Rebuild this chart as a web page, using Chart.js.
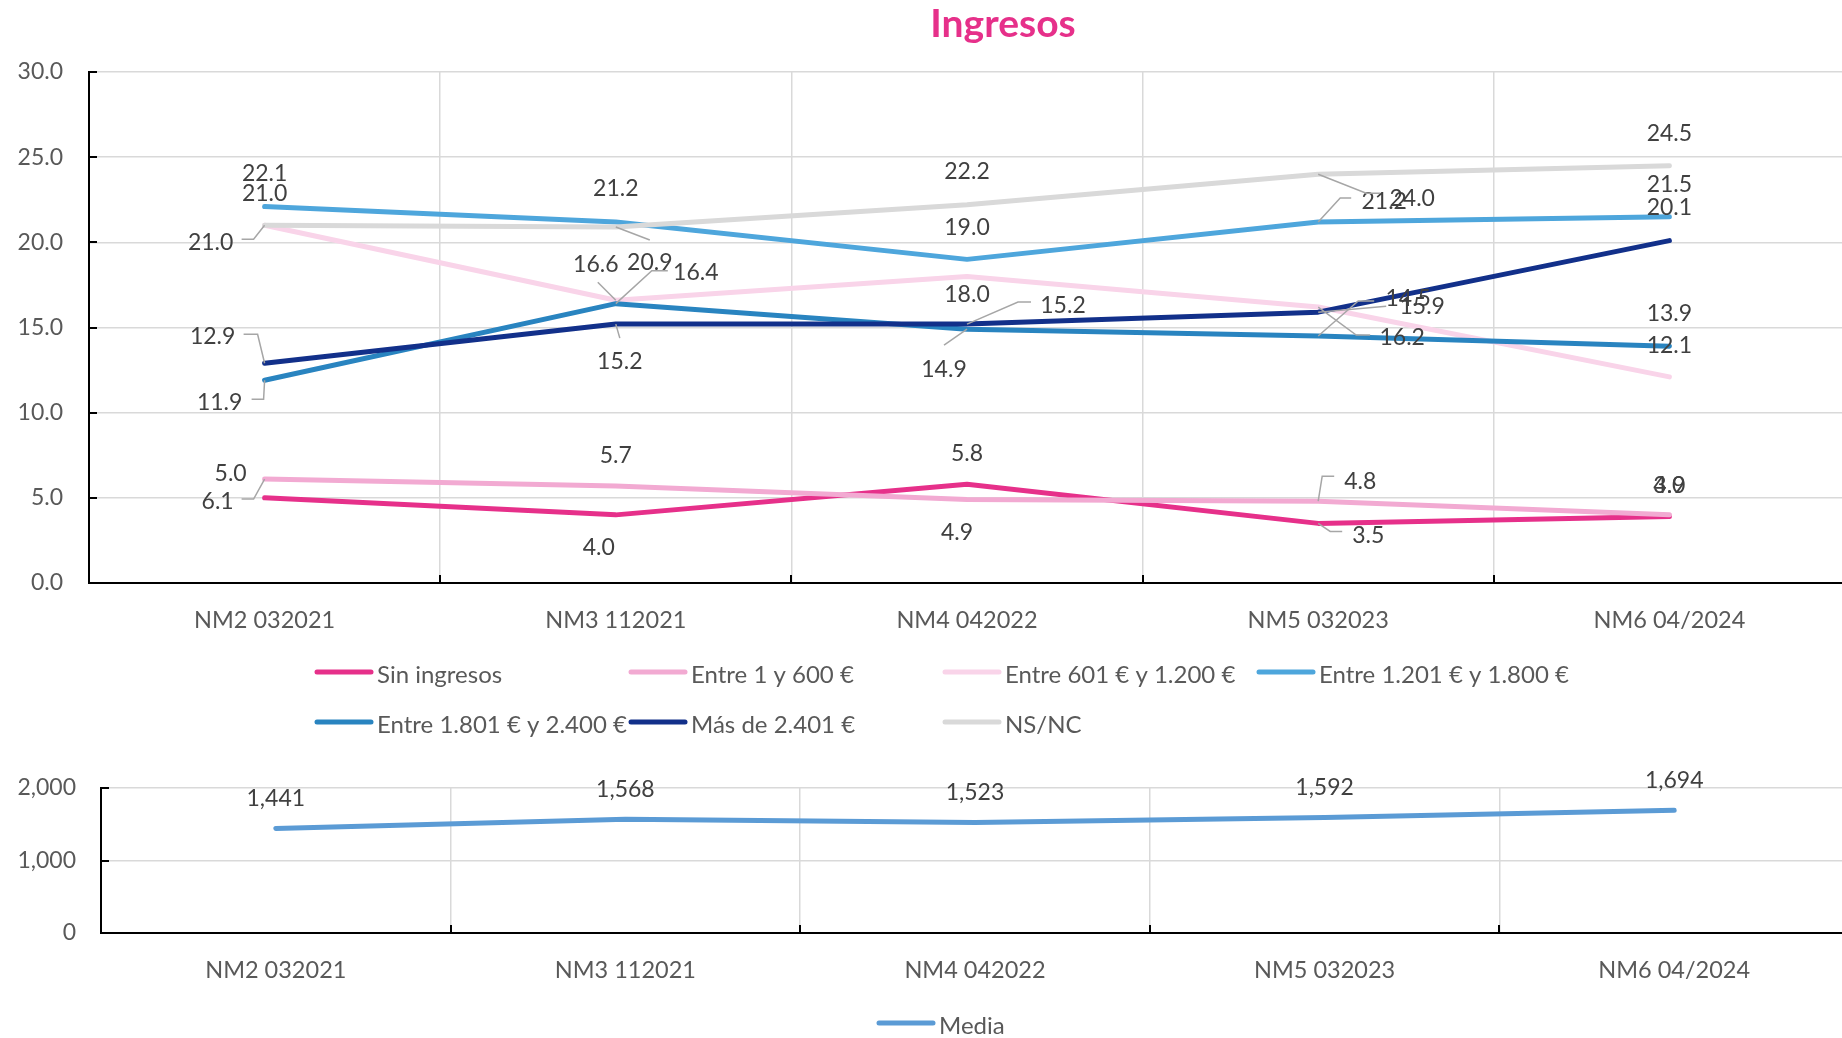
<!DOCTYPE html>
<html>
<head>
<meta charset="utf-8">
<title>Ingresos</title>
<script src="https://cdn.jsdelivr.net/npm/chart.js@4.4.1/dist/chart.umd.min.js"></script>
<style>
  html, body { margin: 0; padding: 0; background: #fff; overflow: hidden; width: 1842px; height: 1038px; }
  #ingresos { position: absolute; left: 0; top: 0; }
  #media { position: absolute; left: 0; top: 760px; }
</style>
</head>
<body>
<canvas id="ingresos" width="1860" height="760"></canvas>
<canvas id="media" width="1860" height="278"></canvas>
<script>
// Survey waves (x categories)
const waves = ['NM2 032021', 'NM3 112021', 'NM4 042022', 'NM5 032023', 'NM6 04/2024'];

// Share of respondents by income bracket (%)
const sinIngresos      = [5.0, 4.0, 5.8, 3.5, 3.9];
const entre1y600       = [6.1, 5.7, 4.9, 4.8, 4.0];
const entre601y1200    = [21.0, 16.6, 18.0, 16.2, 12.1];
const entre1201y1800   = [22.1, 21.2, 19.0, 21.2, 21.5];
const entre1801y2400   = [11.9, 16.4, 14.9, 14.5, 13.9];
const masDe2401        = [12.9, 15.2, 15.2, 15.9, 20.1];
const nsnc             = [21.0, 20.9, 22.2, 24.0, 24.5];

// Average income (€)
const media = [1441, 1568, 1523, 1592, 1694];

// Axis ticks
const pctTicks = [0, 5, 10, 15, 20, 25, 30];
const mediaTicks = [0, 1000, 2000];

const seriesNames = ['Sin ingresos', 'Entre 1 y 600 €', 'Entre 601 € y 1.200 €', 'Entre 1.201 € y 1.800 €',
                     'Entre 1.801 € y 2.400 €', 'Más de 2.401 €', 'NS/NC'];
const seriesValues = [sinIngresos, entre1y600, entre601y1200, entre1201y1800, entre1801y2400, masDe2401, nsnc];
const seriesColors = ['#E6308A', '#F2AAD2', '#F9D4E9', '#4EA6DC', '#2984C0', '#12308A', '#D9D9D9'];

const FONT = 'Lato';
const TEXT = '#595959';
const LABEL = '#404040';
const GRID = '#D9D9D9';

// Where each value label sits relative to its point, plus elbow leaders
const labelPlacement = [
  { offsets: [[-34,-24],[-17,33],[0,-31],[50,12],[0,-31]], leaders: {3: [[12,8],[24,8]]} },
  { offsets: [[-47,22],[0,-30],[-10,33],[42,-20],[0,-29]], leaders: {0: [[-11,20],[-23,20]], 3: [[4,-25],[16,-25]]} },
  { offsets: [[-54,17],[-20,-36],[0,18],[84,31],[0,-31]], leaders: {0: [[-11,14],[-23,14]], 1: [[-18,-18]], 3: [[38,28],[52,28]]} },
  { offsets: [[0,-33],[0,-33],[0,-32],[66,-20],[0,-32]], leaders: {3: [[22,-24],[33,-24]]} },
  { offsets: [[-45,22],[80,-31],[-23,40],[90,-37],[0,-33]], leaders: {0: [[-1,19],[-13,19]], 1: [[36,-33],[52,-33]], 2: [[-23,16]], 3: [[40,-35],[56,-35]]} },
  { offsets: [[-52,-27],[4,37],[96,-19],[104,-6],[0,-33]], leaders: {0: [[-7,-29],[-21,-29]], 1: [[4,14]], 2: [[51,-22],[64,-22]], 3: [[68,-6]]} },
  { offsets: [[0,-32],[34,36],[0,-33],[94,24],[0,-32]], leaders: {1: [[34,13]], 3: [[48,19],[62,19]]} }
];

// Value labels with optional leader lines
const valueLabels = {
  id: 'valueLabels',
  afterDatasetsDraw(chart, args, opts) {
    const ctx = chart.ctx;
    ctx.save();
    ctx.font = `23px ${FONT}`;
    ctx.fillStyle = LABEL;
    ctx.textAlign = 'center';
    ctx.textBaseline = 'middle';
    chart.data.datasets.forEach((ds, di) => {
      const meta = chart.getDatasetMeta(di);
      const place = opts.placement ? opts.placement[di] : null;
      meta.data.forEach((pt, i) => {
        const off = place ? place.offsets[i] : opts.offset;
        const leader = place && place.leaders[i];
        if (leader) {
          ctx.beginPath();
          ctx.strokeStyle = '#A6A6A6';
          ctx.lineWidth = 1.5;
          ctx.moveTo(pt.x, pt.y);
          leader.forEach(p => ctx.lineTo(pt.x + p[0], pt.y + p[1]));
          ctx.stroke();
        }
        ctx.fillText(opts.format(ds.data[i]), pt.x + off[0], pt.y + off[1]);
      });
    });
    ctx.restore();
  }
};

// Short inward tick marks on both axes
const innerTicks = {
  id: 'innerTicks',
  afterDraw(chart, args, opts) {
    const ctx = chart.ctx;
    const xs = chart.scales.x, ys = chart.scales.y;
    const a = chart.chartArea;
    ctx.save();
    ctx.strokeStyle = '#000';
    ctx.lineWidth = 2;
    ys.ticks.forEach((t, i) => {
      const y = Math.round(ys.getPixelForTick(i));
      ctx.beginPath(); ctx.moveTo(a.left, y); ctx.lineTo(a.left + opts.len, y); ctx.stroke();
    });
    const n = chart.data.labels.length;
    const half = (xs.getPixelForValue(1) - xs.getPixelForValue(0)) / 2;
    for (let i = 1; i < n; i++) {
      const x = Math.round(xs.getPixelForValue(i) - half);
      ctx.beginPath(); ctx.moveTo(x, a.bottom); ctx.lineTo(x, a.bottom - opts.len); ctx.stroke();
    }
    ctx.restore();
  }
};

// Legend laid out on a fixed grid of columns and rows
const gridLegend = {
  id: 'gridLegend',
  afterDraw(chart, args, opts) {
    const ctx = chart.ctx;
    ctx.save();
    ctx.font = `24px ${FONT}`;
    ctx.textBaseline = 'middle';
    ctx.textAlign = 'left';
    chart.data.datasets.forEach((ds, i) => {
      const col = i % opts.cols, row = Math.floor(i / opts.cols);
      const x = opts.left + col * opts.colWidth;
      const y = opts.top + row * opts.rowHeight;
      ctx.beginPath();
      ctx.strokeStyle = ds.borderColor;
      ctx.lineWidth = 5;
      ctx.lineCap = 'round';
      ctx.moveTo(x, y - 2); ctx.lineTo(x + 54, y - 2);
      ctx.stroke();
      ctx.fillStyle = TEXT;
      ctx.fillText(ds.label, x + 60, y + 1);
    });
    ctx.restore();
  }
};

// Chart heading
const heading = {
  id: 'heading',
  afterDraw(chart, args, opts) {
    const ctx = chart.ctx;
    ctx.save();
    ctx.font = `bold 39px ${FONT}`;
    ctx.fillStyle = '#E6308A';
    ctx.textAlign = 'center';
    ctx.textBaseline = 'alphabetic';
    ctx.fillText(opts.text, opts.x, opts.y);
    ctx.restore();
  }
};

// Fix the value axis width and drop the extra label padding above/below the plot
function fixValueAxis(width) {
  return s => { s.width = width; s.paddingTop = 0; s.paddingBottom = 0; };
}

function draw() {
  Chart.defaults.font.family = FONT;
  Chart.defaults.color = TEXT;

  new Chart(document.getElementById('ingresos'), {
    type: 'line',
    data: {
      labels: waves,
      datasets: seriesNames.map((name, i) => ({
        label: name,
        data: seriesValues[i],
        borderColor: seriesColors[i],
        backgroundColor: seriesColors[i],
        borderWidth: 5,
        borderCapStyle: 'round',
        borderJoinStyle: 'round',
        pointRadius: 0,
        tension: 0,
        fill: false,
        order: seriesNames.length - i
      }))
    },
    options: {
      responsive: false,
      animation: false,
      layout: { padding: { top: 72, right: 15, left: 0, bottom: 0 } },
      plugins: {
        legend: { display: false },
        tooltip: { enabled: false },
        valueLabels: { placement: labelPlacement, format: v => v.toFixed(1) },
        innerTicks: { len: 8 },
        gridLegend: { left: 317, top: 674, cols: 4, colWidth: 314, rowHeight: 50 },
        heading: { text: 'Ingresos', x: 1003, y: 37 }
      },
      scales: {
        x: {
          offset: true,
          grid: { offset: true, color: GRID, lineWidth: 1.5, drawTicks: false },
          border: { color: '#000', width: 2 },
          ticks: { padding: 23, color: TEXT, font: { size: 23.5 } },
          afterFit: s => { s.height = 177; }
        },
        y: {
          min: pctTicks[0],
          max: pctTicks[pctTicks.length - 1],
          afterBuildTicks: s => { s.ticks = pctTicks.map(v => ({ value: v })); },
          ticks: { padding: 26, color: TEXT, font: { size: 23 }, callback: v => Number(v).toFixed(1) },
          grid: { color: GRID, lineWidth: 1.5, drawTicks: false },
          border: { color: '#000', width: 2 },
          afterFit: fixValueAxis(89)
        }
      }
    },
    plugins: [valueLabels, innerTicks, gridLegend, heading]
  });

  new Chart(document.getElementById('media'), {
    type: 'line',
    data: {
      labels: waves,
      datasets: [{
        label: 'Media',
        data: media,
        borderColor: '#5B9BD5',
        backgroundColor: '#5B9BD5',
        borderWidth: 5,
        borderCapStyle: 'round',
        borderJoinStyle: 'round',
        pointRadius: 0,
        tension: 0,
        fill: false
      }]
    },
    options: {
      responsive: false,
      animation: false,
      layout: { padding: { top: 28, right: 11, left: 0, bottom: 0 } },
      plugins: {
        legend: { display: false },
        tooltip: { enabled: false },
        valueLabels: { offset: [0, -30], format: v => v.toLocaleString('en-US') },
        innerTicks: { len: 8 },
        gridLegend: { left: 879, top: 265, cols: 1, colWidth: 0, rowHeight: 0 }
      },
      scales: {
        x: {
          offset: true,
          grid: { offset: true, color: GRID, lineWidth: 1.5, drawTicks: false },
          border: { color: '#000', width: 2 },
          ticks: { padding: 23, color: TEXT, font: { size: 23.5 } },
          afterFit: s => { s.height = 105; }
        },
        y: {
          min: mediaTicks[0],
          max: mediaTicks[mediaTicks.length - 1],
          afterBuildTicks: s => { s.ticks = mediaTicks.map(v => ({ value: v })); },
          ticks: { padding: 25, color: TEXT, font: { size: 23 }, callback: v => Number(v).toLocaleString('en-US') },
          grid: { color: GRID, lineWidth: 1.5, drawTicks: false },
          border: { color: '#000', width: 2 },
          afterFit: fixValueAxis(101)
        }
      }
    },
    plugins: [valueLabels, innerTicks, gridLegend]
  });
}

Promise.all([
  document.fonts.load(`23px ${FONT}`),
  document.fonts.load(`bold 39px ${FONT}`)
]).then(draw, draw);
</script>
</body>
</html>
